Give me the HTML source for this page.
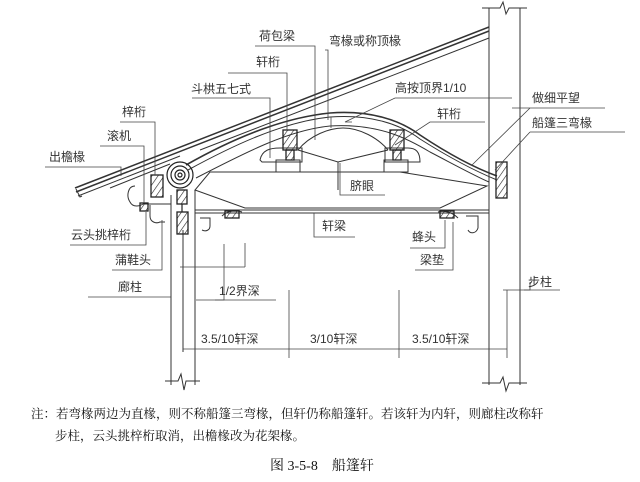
<!DOCTYPE html>
<html><head><meta charset="utf-8"><style>
html,body{margin:0;padding:0;background:#fff;}
svg{display:block;}
text{font-family:"Liberation Sans","Noto Sans CJK SC",sans-serif;font-size:12px;fill:#333;}
.t{font-family:"Liberation Serif","Noto Serif CJK SC",serif;fill:#111;}
</style></head><body>
<svg width="640" height="482" viewBox="0 0 640 482" xmlns="http://www.w3.org/2000/svg">
<defs>
<pattern id="h" width="5" height="5" patternUnits="userSpaceOnUse" patternTransform="rotate(35)">
<line x1="0" y1="0" x2="0" y2="5" stroke="#222" stroke-width="1.2"/></pattern>
</defs>
<g fill="none" stroke="#333" stroke-width="1">
<!-- columns -->
<line x1="171" y1="195" x2="171" y2="385"/><line x1="195" y1="190" x2="195" y2="385"/>
<path d="M165 381 H178 L181 374 L184 390 L186 381 H200"/>
<line x1="489" y1="8" x2="489" y2="385"/><line x1="520" y1="8" x2="520" y2="385"/>
<path d="M482 8 H500 L503 2 L506 14 L509 8 H527"/>
<path d="M482 383 H500 L503 377 L506 391 L509 383 H527"/>
<!-- main rafter -->
<line x1="75" y1="188" x2="489" y2="27" stroke-width="1.5"/>
<line x1="76" y1="192" x2="489" y2="31" stroke-width="1.5"/>
<line x1="78" y1="196" x2="180" y2="156"/>
<line x1="110" y1="188" x2="170" y2="164"/>
<line x1="200" y1="150" x2="489" y2="38"/>
<path d="M76 189 L80 197 L82 196"/>
<!-- arc rafter -->
<path d="M186 165 C230 140 280 118 330 113 C370 110 400 120 420 135 C450 155 475 168 497 176" stroke-width="1.6"/>
<path d="M188 170 C232 146 282 122 330 117 C370 114 400 124 420 139 C450 158 475 171 497 180"/>
<path d="M196 178 C250 150 290 130 330 126 C380 123 410 140 430 152 C455 165 475 176 489 182"/>
<!-- bulge under ridge -->
<path d="M298 150 C310 135 330 128 343 128 C360 128 378 138 388 150"/>
<path d="M298 150 L338 162 L388 150"/>
<line x1="338" y1="162" x2="338" y2="190"/>
<!-- beam -->
<path d="M210 172 H400 L487 186 L440 208 H245 L195 190 Z"/>
<line x1="195" y1="210" x2="489" y2="210"/>
<line x1="195" y1="213" x2="489" y2="213"/>
<!-- supports for purlins -->
<path d="M260 160 C262 150 270 148 280 148 H302 V162 H262 Z"/>
<path d="M276 160 H300 V172 H276 Z"/>
<path d="M385 148 H408 C416 148 420 152 420 162 H385 Z"/>
<path d="M384 160 H408 V172 H384 Z"/>
<!-- left eave parts -->
<path d="M135 186 C128 186 126 196 130 202 C133 208 140 206 143 204"/>
<path d="M150 205 V216 C150 222 156 224 160 222 H165"/>
<path d="M200 218 H210 V226 C210 230 206 232 202 230"/>
<path d="M466 216 H478 V228 C476 234 470 234 468 230"/>
<line x1="143" y1="204" x2="171" y2="204"/>
<!-- bottom ends of beam -->
<path d="M222 216 C228 210 236 210 242 212"/>
<path d="M438 212 C444 210 452 212 458 218"/>
<line x1="183" y1="230" x2="183" y2="352"/>
</g>
<!-- hatched members -->
<g stroke="#222" stroke-width="1.3" fill="url(#h)">
<rect x="283" y="130" width="14" height="20"/><rect x="286" y="150" width="8" height="10"/>
<rect x="390" y="130" width="14" height="20"/><rect x="393" y="150" width="8" height="10"/>
<rect x="496" y="162" width="11" height="36"/>
<rect x="151" y="175" width="12" height="22"/>
<rect x="177" y="190" width="10" height="14"/>
<rect x="177" y="212" width="11" height="22"/>
<rect x="140" y="203" width="8" height="8"/>
<rect x="225" y="211" width="14" height="7"/><rect x="440" y="211" width="14" height="7"/>
</g>
<g fill="none" stroke="#222" stroke-width="1.2">
<circle cx="180" cy="175" r="13"/><circle cx="180" cy="175" r="9"/><circle cx="180" cy="175" r="5"/><circle cx="180" cy="175" r="2"/>
<line x1="182" y1="204" x2="182" y2="212"/>
</g>
<!-- leader lines -->
<g fill="none" stroke="#444" stroke-width="0.8">
<polyline points="255,46 315,46 315,140"/>
<polyline points="228,73 287,73 287,130"/>
<polyline points="192,98 270,98 270,158"/>
<polyline points="120,122 155,122 155,175"/>
<polyline points="100,146 144,146 144,203"/>
<polyline points="45,167 121,167 121,176"/>
<polyline points="325,50 328,50 328,120"/>
<polyline points="352,122 345,122 395,98 512,98"/>
<polyline points="485,122 430,122 395,145"/>
<polyline points="512,108 530,108"/>
<path d="M530 108 L472 165 M530 132 L495 170 M530 132 H625"/>
<path d="M530 108 H605"/>
<polyline points="340,163 340,195 385,195"/>
<polyline points="314,213 314,237 355,237"/>
<polyline points="410,248 445,248 445,220"/>
<polyline points="415,270 453,270 453,222"/>
<polyline points="70,245 146,245 146,212"/>
<polyline points="112,270 162,270 162,220"/>
<polyline points="88,297 171,297"/>
<polyline points="503,290 530,290 530,282"/>
<path d="M524 290 H560"/>
<polyline points="196,300 224,300 224,244"/>
<path d="M180 267 H245 M245 243 V267 M215 300 H276"/>
<line x1="289" y1="290" x2="289" y2="358"/>
<line x1="399" y1="290" x2="399" y2="358"/>
<line x1="507" y1="290" x2="507" y2="358"/>
<line x1="183" y1="349" x2="507" y2="349"/>
<line x1="331" y1="117" x2="331" y2="128"/>
</g>
<!-- labels -->
<text x="259" y="40">荷包梁</text>
<text x="256" y="66">轩桁</text>
<text x="191" y="93">斗栱五七式</text>
<text x="122" y="116">梓桁</text>
<text x="107" y="140">滚机</text>
<text x="49" y="161">出檐椽</text>
<text x="329" y="45">弯椽或称顶椽</text>
<text x="395" y="92">高按顶界1/10</text>
<text x="437" y="118">轩桁</text>
<text x="532" y="102">做细平望</text>
<text x="532" y="127">船篷三弯椽</text>
<text x="350" y="190">脐眼</text>
<text x="322" y="230">轩梁</text>
<text x="412" y="241">蜂头</text>
<text x="420" y="264">梁垫</text>
<text x="528" y="286">步柱</text>
<text x="71" y="239">云头挑梓桁</text>
<text x="115" y="264">蒲鞋头</text>
<text x="118" y="291">廊柱</text>
<text x="219" y="295">1/2界深</text>
<text x="201" y="343">3.5/10轩深</text>
<text x="310" y="343">3/10轩深</text>
<text x="412" y="343">3.5/10轩深</text>
<text class="t" x="31" y="418" style="font-size:12.5px">注：若弯椽两边为直椽，则不称船篷三弯椽，但轩仍称船篷轩。若该轩为内轩，则廊柱改称轩</text>
<text class="t" x="55" y="440" style="font-size:12.5px">步柱，云头挑梓桁取消，出檐椽改为花架椽。</text>
<text class="t" x="270" y="470" style="font-size:14px">图 3-5-8　船篷轩</text>
</svg>
</body></html>
